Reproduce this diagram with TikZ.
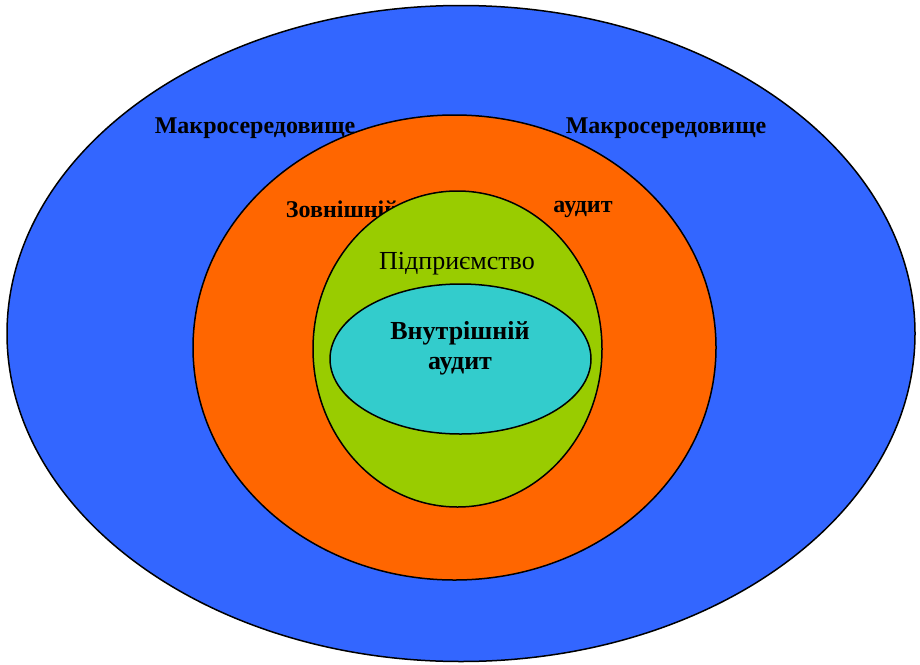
\documentclass[tikz,border=0pt]{standalone}
\usepackage{fontspec}
\setmainfont{Liberation Serif}
\definecolor{macroblue}{HTML}{3366FF}
\definecolor{extorange}{HTML}{FF6600}
\definecolor{firmgreen}{HTML}{99CC00}
\definecolor{intcyan}{HTML}{33CCCC}
\begin{document}
\begin{tikzpicture}[x=1pt,y=-1pt,
  ring/.style={draw=black,line width=1.5pt},
  outerlabel/.style={font=\fontsize{24}{28}\selectfont\bfseries,inner sep=0pt},
  innerlabel/.style={font=\fontsize{26}{30}\selectfont\bfseries,inner sep=0pt,align=center},
  plainlabel/.style={font=\fontsize{26}{30}\selectfont,inner sep=0pt}]
  \useasboundingbox (0,0) rectangle (920,664);
  % environment layers, outermost first
  \filldraw[ring,fill=macroblue] (461,333.5) ellipse [x radius=454,y radius=328];
  \node[outerlabel] (macroL) at (255,128) {Макросередовище};
  \node[outerlabel] (macroR) at (666,128) {Макросередовище};
  \filldraw[ring,fill=extorange] (454.5,347.5) ellipse [x radius=261.5,y radius=232.5];
  \node[outerlabel] (extA) at (342,209) {Зовнішній};
  \node[outerlabel] (extB) at (583,209) {аудит};
  \filldraw[ring,fill=firmgreen] (457.5,349) ellipse [x radius=144.5,y radius=158];
  \node[plainlabel] (firm) at (457,264) {Підприємство};
  \filldraw[ring,fill=intcyan] (460.5,359) ellipse [x radius=130.5,y radius=75];
  \node[innerlabel] (intA) at (460,348) {Внутрішній\\аудит};
\end{tikzpicture}
\end{document}
